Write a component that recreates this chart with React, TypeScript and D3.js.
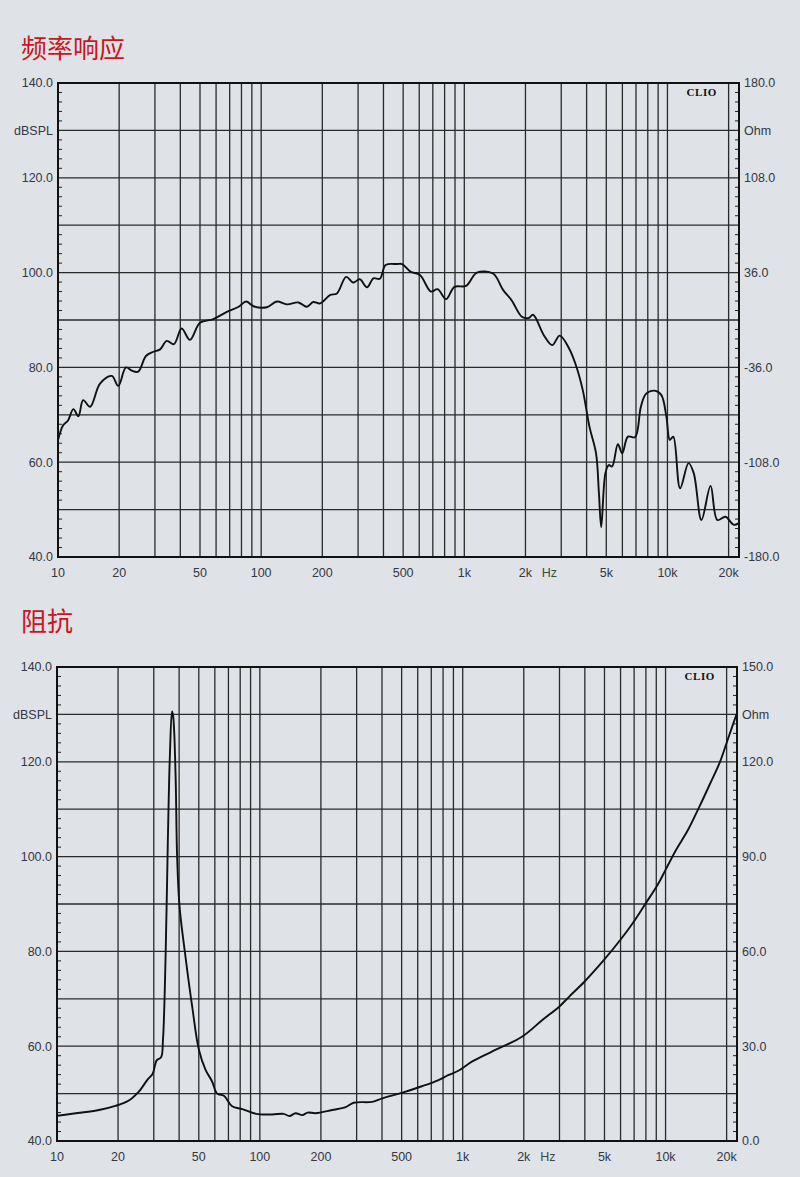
import React from 'react';
import * as d3 from 'd3';

// frequency response (Hz, dBSPL)
const responseFreq = [10, 10.6, 11.2, 11.9, 12.6, 13.3, 14.4, 16.1, 18.4, 19.8, 21.6, 23.1, 24.8, 27.1, 29.5, 31.8, 34.3, 37.2, 40.6, 44.6, 50, 58.2, 67.8, 77.5, 84.4, 91.8, 106.7, 119.6, 133.8, 152.6, 167.7, 180.6, 195, 219, 236, 262, 284, 306, 332, 357, 384, 410, 468, 494, 543, 605, 685, 739, 813, 894, 1020, 1153, 1385, 1554, 1707, 1920, 2071, 2180, 2463, 2708, 2950, 3280, 3540, 3830, 4130, 4450, 4600, 4720, 4950, 5140, 5340, 5700, 5990, 6390, 6930, 7400, 7840, 8630, 9320, 9880, 10270, 10680, 11540, 12700, 13470, 14700, 16300, 17600, 19300, 21200, 22600];
const responseDb = [64.7, 67.8, 68.8, 71.2, 69.7, 73.1, 71.7, 76.6, 78.2, 76.1, 80.0, 79.3, 79.1, 82.4, 83.3, 83.8, 85.6, 84.9, 88.2, 85.8, 89.4, 90.2, 91.7, 92.8, 93.9, 92.9, 92.7, 93.9, 93.3, 93.7, 92.8, 93.8, 93.5, 95.3, 95.6, 99.1, 97.9, 98.6, 96.9, 98.8, 98.7, 101.6, 101.8, 101.8, 100.2, 99.5, 96.0, 96.5, 94.4, 97.0, 97.2, 100.0, 99.8, 96.3, 94.2, 90.7, 90.4, 91.1, 86.8, 84.7, 86.7, 84.0, 80.5, 75.2, 67.5, 61.9, 53.4, 46.3, 57.7, 59.4, 59.1, 63.8, 61.9, 65.4, 65.3, 71.7, 74.4, 75.1, 74.2, 69.6, 64.7, 65.4, 54.5, 59.8, 57.7, 47.8, 55.0, 47.8, 48.5, 46.8, 47.2];

// impedance (Hz, Ohm)
const impedanceFreq = [10, 13.3, 16.1, 19.4, 22.6, 25.3, 28.0, 29.6, 31.0, 32.6, 33.3, 34.3, 35.2, 36.0, 36.9, 37.4, 38.4, 39.1, 40.2, 43.0, 46.4, 50.1, 54, 58, 61.6, 66.5, 73, 82, 95.7, 115, 131, 140, 150, 162, 172, 188, 227, 265, 290, 358, 402, 505, 634, 760, 853, 957, 1110, 1393, 1960, 2470, 2990, 3350, 3980, 4970, 5980, 6970, 7980, 9130, 10000, 11260, 12890, 14730, 16530, 18550, 20400, 22400];
const impedanceOhm = [8.0, 9.0, 9.8, 11.1, 12.8, 15.6, 19.5, 21.2, 25.5, 26.5, 32, 58.3, 95.3, 121.6, 135.9, 134.3, 116.4, 90.0, 74.1, 58.3, 42.5, 28.8, 22.5, 19, 15, 14.3, 11, 10.1, 8.6, 8.4, 8.6, 7.9, 8.8, 8.2, 9.0, 8.8, 9.8, 10.7, 12.1, 12.4, 13.5, 15.3, 17.4, 19.3, 20.9, 22.3, 25.1, 28.3, 33.0, 38.3, 42.5, 45.7, 50.4, 57.3, 63.6, 69.4, 75.2, 81.0, 85.8, 92.1, 98.4, 106.0, 112.9, 120.0, 127.6, 135.1];

const freqTickValues = [10, 20, 50, 100, 200, 500, 1000, 2000, 5000, 10000, 20000];
const freqTickLabels = ['10', '20', '50', '100', '200', '500', '1k', '2k', '5k', '10k', '20k'];

const leftLabelValues = [140, 130, 120, 100, 80, 60, 40];
const leftLabelTexts = ['140.0', 'dBSPL', '120.0', '100.0', '80.0', '60.0', '40.0'];

const topRightLabels = ['180.0', 'Ohm', '108.0', '36.0', '-36.0', '-108.0', '-180.0'];
const bottomRightLabels = ['150.0', 'Ohm', '120.0', '90.0', '60.0', '30.0', '0.0'];

const FONT = '"Liberation Sans", Arial, sans-serif';
const LABEL = '#343844';

interface PanelProps {
  id: string;
  left: number;
  right: number;
  top: number;
  bottom: number;
  rightDomain: [number, number];
  rightLabels: string[];
  freq: number[];
  values: number[];
  useRight: boolean;
}

const Panel = ({ id, left, right, top, bottom, rightDomain, rightLabels, freq, values, useRight }: PanelProps) => {
  const x = d3.scaleLog().domain([10, 22500]).range([left, right]);
  const y = d3.scaleLinear().domain([40, 140]).range([bottom, top]);
  const yR = d3.scaleLinear().domain(rightDomain).range([bottom, top]);

  // vertical grid: every 1-2-...-9 step of each decade
  const vGrid: number[] = [];
  [10, 100, 1000, 10000].forEach(dec => {
    for (let k = 1; k <= 9; k++) {
      const f = dec * k;
      if (f > 10 && f <= 20000) vGrid.push(f);
    }
  });
  const hGrid = d3.range(50, 140, 10);
  const minor = d3.range(42, 140, 2).filter(v => v % 10 !== 0);

  const pts = freq.map((f, i) => [f, values[i]] as [number, number]);
  const line = d3.line<[number, number]>()
    .x(d => x(d[0]))
    .y(d => (useRight ? yR(d[1]) : y(d[1])))
    .curve(d3.curveCatmullRom.alpha(0.5));

  return (
    <g>
      <defs>
        <clipPath id={id}>
          <rect x={left} y={top} width={right - left} height={bottom - top} />
        </clipPath>
      </defs>
      {vGrid.map(f => (
        <line key={'v' + f} x1={x(f)} x2={x(f)} y1={top} y2={bottom} stroke="#2a2a2a" strokeWidth={1.3} />
      ))}
      {hGrid.map(v => (
        <line key={'h' + v} x1={left} x2={right} y1={y(v)} y2={y(v)} stroke="#2a2a2a" strokeWidth={1.3} />
      ))}
      {minor.map(v => (
        <g key={'m' + v}>
          <line x1={left} x2={left + 4} y1={y(v)} y2={y(v)} stroke="#222" strokeWidth={1} />
          <line x1={right - 4} x2={right} y1={y(v)} y2={y(v)} stroke="#222" strokeWidth={1} />
        </g>
      ))}
      <path d={line(pts) || ''} fill="none" stroke="#111" strokeWidth={1.9} strokeLinejoin="round" clipPath={`url(#${id})`} />
      <rect x={left} y={top} width={right - left} height={bottom - top} fill="none" stroke="#111" strokeWidth={2} />
      <text x={right - 22} y={top + 12.5} textAnchor="end" fontFamily='"Liberation Serif", "DejaVu Serif", serif'
        fontWeight="bold" fontSize={11} letterSpacing={0.6} fill="#111">CLIO</text>
      {leftLabelValues.map((v, i) => (
        <text key={'l' + i} x={left - 5} y={y(v)} dy="0.35em" textAnchor="end" fontFamily={FONT} fontSize={12.5} fill={LABEL}>
          {leftLabelTexts[i]}
        </text>
      ))}
      {leftLabelValues.map((v, i) => (
        <text key={'r' + i} x={right + 5} y={y(v)} dy="0.35em" textAnchor="start" fontFamily={FONT} fontSize={12.5} fill={LABEL}>
          {rightLabels[i]}
        </text>
      ))}
      {freqTickValues.map((f, i) => (
        <text key={'x' + f} x={x(f)} y={bottom + 20} textAnchor="middle" fontFamily={FONT} fontSize={12.5} fill={LABEL}>
          {freqTickLabels[i]}
        </text>
      ))}
      <text x={x(2000) + 24} y={bottom + 20} textAnchor="middle" fontFamily={FONT} fontSize={12.5} fill="#3b4a3b">Hz</text>
    </g>
  );
};

const App = () => {
  return (
    <div style={{ position: 'absolute', left: 0, top: 0 }}>
      <svg width={800} height={1177} style={{ display: 'block', background: '#dfe2e7' }}>
        <text x={21} y={58} fontFamily='"Noto Sans CJK SC", sans-serif' fontSize={26} fill="#c8161e">频率响应</text>
        <Panel id="clip-top" left={58} right={739} top={83} bottom={557}
          rightDomain={[-180, 180]} rightLabels={topRightLabels}
          freq={responseFreq} values={responseDb} useRight={false} />
        <text x={21} y={631} fontFamily='"Noto Sans CJK SC", sans-serif' fontSize={26} fill="#c8161e">阻抗</text>
        <Panel id="clip-bottom" left={57} right={737} top={667} bottom={1141}
          rightDomain={[0, 150]} rightLabels={bottomRightLabels}
          freq={impedanceFreq} values={impedanceOhm} useRight={true} />
      </svg>
    </div>
  );
};

export default App;
